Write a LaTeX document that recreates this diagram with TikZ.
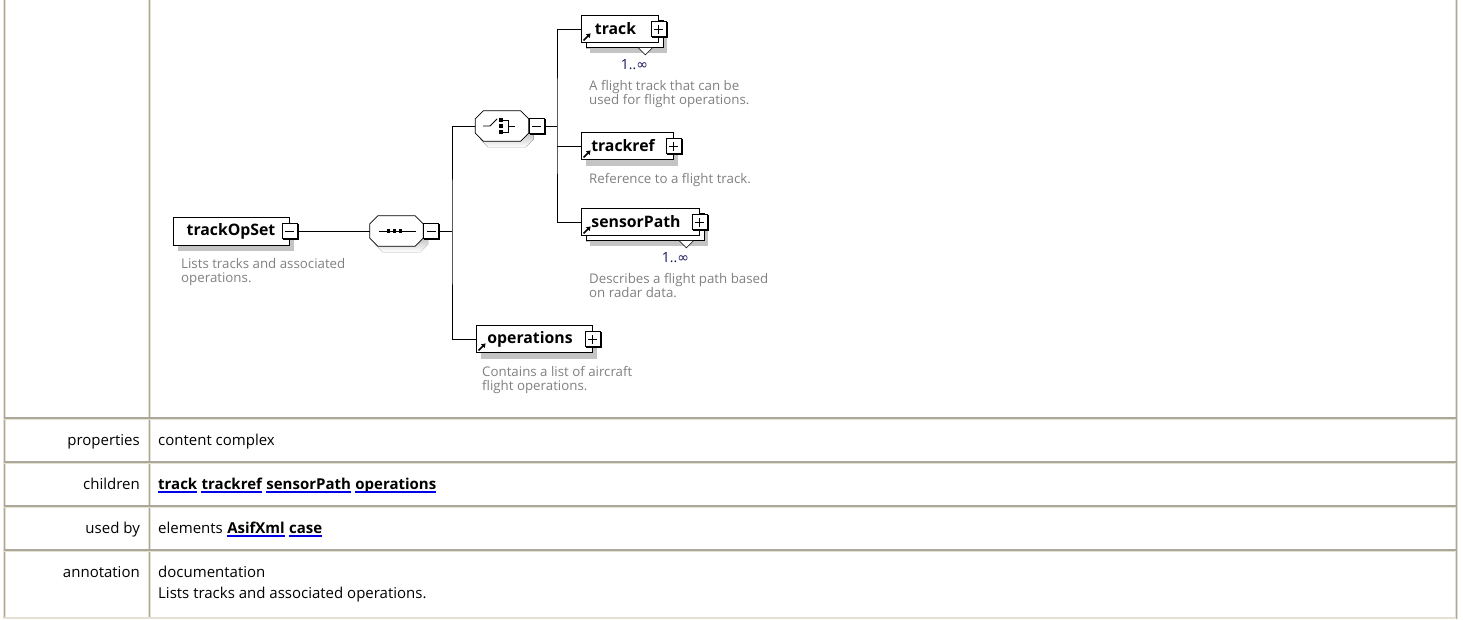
\documentclass[tikz,border=0pt]{standalone}
\usepackage{fontspec}
\setmainfont{Open Sans}
\newfontfamily\symfont{DejaVu Sans}
\usetikzlibrary{positioning,shadows,arrows.meta}

\definecolor{gridline}{RGB}{172,168,153}
\definecolor{gridlight}{RGB}{228,225,212}
\definecolor{doctext}{RGB}{128,128,128}
\definecolor{occurs}{RGB}{20,20,90}
\definecolor{shade}{RGB}{196,196,196}
\definecolor{linkblue}{RGB}{0,0,230}

\tikzset{
  elem/.style={draw, fill=white, line width=0.8pt, minimum height=27pt,
    font=\fontsize{15.8}{17}\selectfont\bfseries,
    copy shadow={shadow xshift=5pt, shadow yshift=-6pt, draw=none, fill=shade}},
  elemref/.style={elem, execute at end node=\hspace*{8pt}},
  elemmany/.style={elemref,
    copy shadow={shadow xshift=9pt, shadow yshift=-10pt, draw=none, fill=shade},
    copy shadow={shadow xshift=5pt, shadow yshift=-5pt, draw=black, fill=white}},
  compositor/.style={minimum width=53pt, minimum height=30pt},
  ctrlbox/.style={draw, fill=white, line width=0.8pt, minimum size=15pt,
    copy shadow={shadow xshift=1.2pt, shadow yshift=-1.2pt, draw=black, fill=black}},
  minusbox/.style={ctrlbox, path picture={
    \draw[line width=0.8pt] ([xshift=-4.5pt]path picture bounding box.center)
      -- ([xshift=4.5pt]path picture bounding box.center);}},
  plusbox/.style={ctrlbox, path picture={
    \draw[line width=0.8pt] ([xshift=-4.5pt]path picture bounding box.center)
      -- ([xshift=4.5pt]path picture bounding box.center)
      ([yshift=-4.5pt]path picture bounding box.center)
      -- ([yshift=4.5pt]path picture bounding box.center);}},
  doc/.style={anchor=north west, align=left, text=doctext,
    font=\fontsize{13.3}{14}\selectfont},
  occ/.style={anchor=north, text=occurs, font=\fontsize{14}{15}\selectfont},
  refarrow/.style={line width=1.6pt, -{Triangle[length=4pt,width=5pt]}},
  conn/.style={line width=0.8pt},
  cell/.style={font=\fontsize{15}{17}\selectfont},
  link/.style={font=\fontsize{15}{17}\selectfont\bfseries},
  linkline/.style={linkblue, line width=1.6pt}
}

% octagon frame with shadow around a compositor node
\newcommand{\compframe}[1]{%
  \fill[shade, transform canvas={shift={(5pt,-6pt)}}]
    ([xshift=8pt]#1.north west) -- ([xshift=-8pt]#1.north east)
    -- ([yshift=-8pt]#1.north east) -- ([yshift=8pt]#1.south east)
    -- ([xshift=-8pt]#1.south east) -- ([xshift=8pt]#1.south west)
    -- ([yshift=8pt]#1.south west) -- ([yshift=-8pt]#1.north west) -- cycle;
  \filldraw[fill=white, line width=0.8pt]
    ([xshift=8pt]#1.north west) -- ([xshift=-8pt]#1.north east)
    -- ([yshift=-8pt]#1.north east) -- ([yshift=8pt]#1.south east)
    -- ([xshift=-8pt]#1.south east) -- ([xshift=8pt]#1.south west)
    -- ([yshift=8pt]#1.south west) -- ([yshift=-8pt]#1.north west) -- cycle;}

\begin{document}
\begin{tikzpicture}[x=1pt, y=-1pt, every node/.style={inner sep=0pt}]
  \useasboundingbox (0,0) rectangle (1463,619);

  % table grid
  \foreach \x in {4,149,1456} {
    \draw[gridlight, line width=3pt] (\x,0) -- (\x,619);
    \draw[gridline, line width=1.2pt] (\x+0.5,0) -- (\x+0.5,619);
  }
  \foreach \y in {418,462,506,550} {
    \draw[gridline, line width=2pt] (4,\y) -- (1456,\y);
    \draw[gridlight, line width=1pt] (4,\y+1.5) -- (1456,\y+1.5);
  }
  \draw[gridlight, line width=1.5pt] (4,618) -- (1456,618);

  % element and its content model
  \node[elem, minimum width=116pt, minimum height=28pt] (opset) at (231,231) {trackOpSet};
  \node[minusbox] (opsetminus) at (opset.east) {};
  \node[doc] (opsetdoc) at (181,258) {Lists tracks and associated\\operations.};

  \node[compositor] (seq) at (396.5,231) {};
  \compframe{seq}
  \node[minusbox, anchor=west] (seqminus) at (seq.east) {};
  \draw[conn] (seq.center) +(-18,0) -- +(19,0);
  \foreach \dx in {-8,-2,4}
    \fill (seq.center) ++(\dx-1.7,-1.7) rectangle ++(3.4,3.4);

  \node[compositor] (choice) at (502,126) {};
  \compframe{choice}
  \node[minusbox, anchor=west] (choiceminus) at (choice.east) {};
  \draw[conn] (choice.center) +(-19,0) -- +(-12,0) -- +(-5,-7);
  \foreach \dy in {-6,0,6}
    \fill (choice.center) ++(-2.7,\dy-1.7) rectangle ++(3.4,3.4);
  \draw[conn] (choice.center) +(-1,-6) -- +(6,-6) -- +(6,6) -- +(-1,6)
    (choice.center) +(6,0) -- +(13,0);

  \node[elemmany, minimum width=77pt] (track) at (619.5,29) {track};
  \node[plusbox] (trackplus) at (track.east) {};
  \node[elemref, minimum width=92pt] (trackref) at (627,146) {trackref};
  \node[plusbox] (trackrefplus) at (trackref.east) {};
  \node[elemmany, minimum width=118pt] (sensor) at (640,222) {sensorPath};
  \node[plusbox] (sensorplus) at (sensor.east) {};
  \node[elemref, minimum width=116pt] (ops) at (534,339) {operations};
  \node[plusbox] (opsplus) at (ops.east) {};

  \foreach \n in {track,trackref,sensor,ops}
    \draw[refarrow] ([xshift=3pt,yshift=2.5pt]\n.south west) -- ++(7,-7);

  % occurrence marks
  \foreach \n in {track,sensor} {
    \coordinate (\n-notch) at ([xshift=-13pt,yshift=-5pt]\n.south east);
    \draw[fill=white, line width=0.6pt] ([xshift=-7pt]\n-notch) -- ++(7,7) -- ++(7,-7);
  }
  \node[occ] (trackocc) at ([xshift=-11pt,yshift=-11pt]track-notch) {1..{\symfont ∞}};
  \node[occ] (sensorocc) at ([xshift=-11pt,yshift=-11pt]sensor-notch) {1..{\symfont ∞}};

  \node[doc] (trackdoc) at (589,80) {A flight track that can be\\used for flight operations.};
  \node[doc] (trackrefdoc) at (589,173) {Reference to a flight track.};
  \node[doc] (sensordoc) at (589,273) {Describes a flight path based\\on radar data.};
  \node[doc] (opsdoc) at (482,366) {Contains a list of aircraft\\flight operations.};

  % connectors
  \coordinate (seqbus) at (452,231);
  \coordinate (choicebus) at (557,126);
  \draw[conn] (opsetminus.east) -- (seq.west);
  \draw[conn] (seqminus.east) -- (seqbus);
  \draw[conn] (choice.west) -| (seqbus) |- (ops.west);
  \draw[conn] (choiceminus.east) -- (choicebus);
  \draw[conn] (track.west) -| (choicebus) |- (sensor.west);
  \draw[conn] (choicebus |- trackref.west) -- (trackref.west);

  % table rows
  \node[cell, anchor=base east] (prophead) at (140,445) {properties};
  \node[cell, anchor=base west] (propval) at (158,445) {content complex};

  \node[cell, anchor=base east] (childhead) at (140,489) {children};
  \node[link, anchor=base west] (chtrack) at (158,489) {track};
  \node[link, base right=4pt of chtrack] (chtrackref) {trackref};
  \node[link, base right=4pt of chtrackref] (chsensor) {sensorPath};
  \node[link, base right=4pt of chsensor] (chops) {operations};

  \node[cell, anchor=base east] (usedhead) at (140,533) {used by};
  \node[cell, anchor=base west] (usedval) at (158,533) {elements};
  \node[link, base right=4pt of usedval] (ubasif) {AsifXml};
  \node[link, base right=4pt of ubasif] (ubcase) {case};

  \foreach \n in {chtrack,chtrackref,chsensor,chops,ubasif,ubcase}
    \draw[linkline] ([yshift=-3pt]\n.base west) -- ([yshift=-3pt]\n.base east);

  \node[cell, anchor=base east] (annothead) at (140,577) {annotation};
  \node[cell, anchor=base west] (annotkind) at (158,577) {documentation};
  \node[cell, anchor=base west] (annottext) at (158,598) {Lists tracks and associated operations.};
\end{tikzpicture}
\end{document}
